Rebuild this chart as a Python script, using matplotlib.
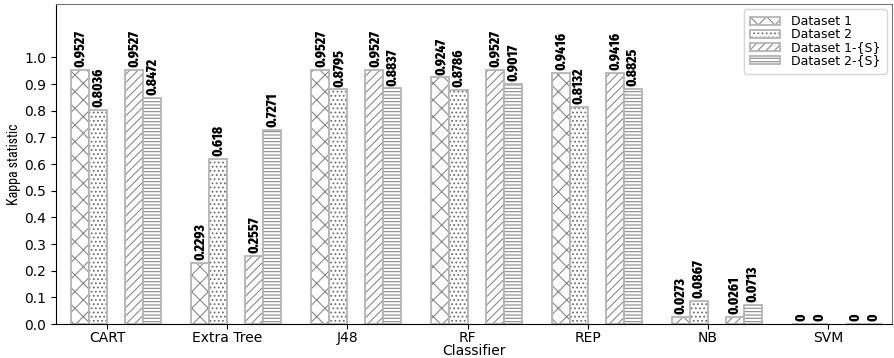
import matplotlib
matplotlib.use("Agg")
import matplotlib.pyplot as plt
import numpy as np
from matplotlib.colors import to_rgba

classifiers = ["CART", "Extra Tree", "J48", "RF", "REP", "NB", "SVM"]
series_names = ["Dataset 1", "Dataset 2", "Dataset 1-{S}", "Dataset 2-{S}"]
dataset1 = [0.9527, 0.2293, 0.9527, 0.9247, 0.9416, 0.0273, 0]
dataset2 = [0.8036, 0.618, 0.8795, 0.8786, 0.8132, 0.0867, 0]
dataset1_s = [0.9527, 0.2557, 0.9527, 0.9527, 0.9416, 0.0261, 0]
dataset2_s = [0.8472, 0.7271, 0.8837, 0.9017, 0.8825, 0.0713, 0]
yticks = [0.0, 0.1, 0.2, 0.3, 0.4, 0.5, 0.6, 0.7, 0.8, 0.9, 1.0]

series = [dataset1, dataset2, dataset1_s, dataset2_s]
hatches = ["xx", "....", "////", "-----"]
hatch_cols = ["#8a8a8a", "#6e6e6e", "#8a8a8a", "#8a8a8a"]
offsets = [-0.225, -0.075, 0.225, 0.375]
width = 0.15
edge_col = "#b4b4b4"

plt.rcParams["hatch.linewidth"] = 0.8
plt.rcParams["font.family"] = "DejaVu Sans"

fig = plt.figure(figsize=(8.95, 3.58), dpi=100)
ax = fig.add_axes([56 / 895, 34 / 358, 836 / 895, 320 / 358])

x = np.arange(len(classifiers))
for vals, name, h, hc, off in zip(series, series_names, hatches, hatch_cols, offsets):
    bars = ax.bar(x + off, vals, width, label=name, facecolor="white",
                  edgecolor=edge_col, hatch=h, linewidth=1.3)
    for p in bars:
        p._hatch_color = to_rgba(hc)
    for xi, v in zip(x + off, vals):
        ax.annotate(f"{v:g}", (xi, v), xytext=(0, 2), textcoords="offset points",
                    ha="center", va="bottom", rotation=90,
                    fontfamily="Fira Sans Extra Condensed", fontweight="heavy",
                    fontsize=10.5)

ax.set_xlim(-0.425, 6.533)
ax.set_ylim(0, 1.2)
ax.set_yticks(yticks)
ax.set_yticklabels([f"{t:.1f}" for t in yticks])
ax.set_xticks(x)
ax.set_xticklabels(classifiers)
ax.tick_params(labelsize=10)
ax.tick_params(axis="x", pad=1.5)
ax.set_xlabel("Classifier", fontsize=10, labelpad=-0.5)
ax.set_ylabel("Kappa statistic", fontfamily="Roboto Condensed", fontsize=10, labelpad=2)
for s in ["top", "right"]:
    ax.spines[s].set_color("#777777")

leg = ax.legend(loc="upper right", fontsize=9, labelspacing=0.0, borderpad=0.5,
                handlelength=2.4, handletextpad=0.9, bbox_to_anchor=(1, 1),
                borderaxespad=0.4)
for p, hc in zip(leg.get_patches(), hatch_cols):
    p._hatch_color = to_rgba(hc)

fig.savefig("out.png", dpi=100)
